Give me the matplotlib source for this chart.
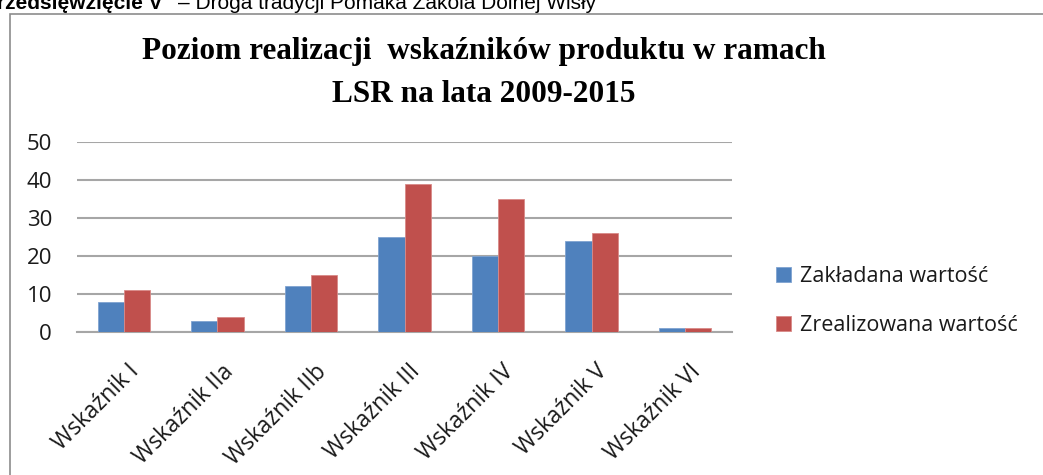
import matplotlib.pyplot as plt
from matplotlib.patches import Rectangle
import numpy as np

categories = ["Wskaźnik I", "Wskaźnik IIa", "Wskaźnik IIb", "Wskaźnik III",
              "Wskaźnik IV", "Wskaźnik V", "Wskaźnik VI"]
zakladana = [8, 3, 12, 25, 20, 24, 1]
zrealizowana = [11, 4, 15, 39, 35, 26, 1]
series_names = ["Zakładana wartość", "Zrealizowana wartość"]
yticks = [0, 10, 20, 30, 40, 50]

W, H = 1043, 475
fig = plt.figure(figsize=(W / 100, H / 100), dpi=100)
fig.patch.set_facecolor("white")

# outer chart frame (cut by the page edge)
fig.add_artist(Rectangle((10 / W, -0.1), 1.2, 1 - 14 / H + 0.1,
                         transform=fig.transFigure, fill=False,
                         edgecolor="#8c8c8c", linewidth=1.2))

# caption line above the chart, mostly cut off by the crop
fig.text(162 / W, 1 - 9 / H, "Przedsięwzięcie V", fontsize=15, weight="bold",
         family="Liberation Sans", va="baseline", ha="right")
fig.text(178 / W, 1 - 9 / H, "– Droga tradycji Pomaka Zakola Dolnej Wisły",
         fontsize=15, family="Liberation Sans", va="baseline", ha="left")

ax = fig.add_axes([77 / W, 1 - 332 / H, (732 - 77) / W, (332 - 142) / H])

x = np.arange(len(categories))
w = 0.28
ax.bar(x - w / 2, zakladana, w, color="#4F81BD", edgecolor="#7fa3d1",
       linewidth=0.6, label=series_names[0], zorder=3)
ax.bar(x + w / 2, zrealizowana, w, color="#C0504D", edgecolor="#d98a88",
       linewidth=0.6, label=series_names[1], zorder=3)

ax.set_xlim(-0.5, len(categories) - 0.5)
ax.set_ylim(0, 50)
ax.set_yticks(yticks)
ax.yaxis.grid(True, color="#a6a6a6", linewidth=1.5, zorder=0)
for s in ["left", "right", "top"]:
    ax.spines[s].set_visible(False)
ax.spines["bottom"].set_color("#a6a6a6")
ax.spines["bottom"].set_linewidth(1.5)
ax.tick_params(axis="y", length=0, pad=18, labelsize=16,
               labelcolor="#1a1a1a")
ax.tick_params(axis="x", length=0, pad=20)
ax.set_xticks(x + 0.04)
ax.set_xticklabels(categories, rotation=45, ha="right",
                   rotation_mode="anchor", fontsize=16.5, color="#1a1a1a")
for lab in ax.get_yticklabels() + ax.get_xticklabels():
    lab.set_family("Open Sans")

fig.text(484 / W, 1 - 52 / H, "Poziom realizacji  wskaźników produktu w ramach",
         family="Liberation Serif", weight="bold", fontsize=22.5,
         ha="center", va="center")
fig.text(484 / W, 1 - 94 / H, "LSR na lata 2009-2015",
         family="Liberation Serif", weight="bold", fontsize=22.5,
         ha="center", va="center")

fig.legend(loc="upper left", bbox_to_anchor=(757 / W, 1 - 247 / H),
           frameon=False, prop={"family": "Open Sans", "size": 15.5},
           handlelength=0.7, handleheight=0.7, handletextpad=0.4,
           labelspacing=1.3, labelcolor="#1a1a1a")

fig.savefig("out.png", dpi=100)
